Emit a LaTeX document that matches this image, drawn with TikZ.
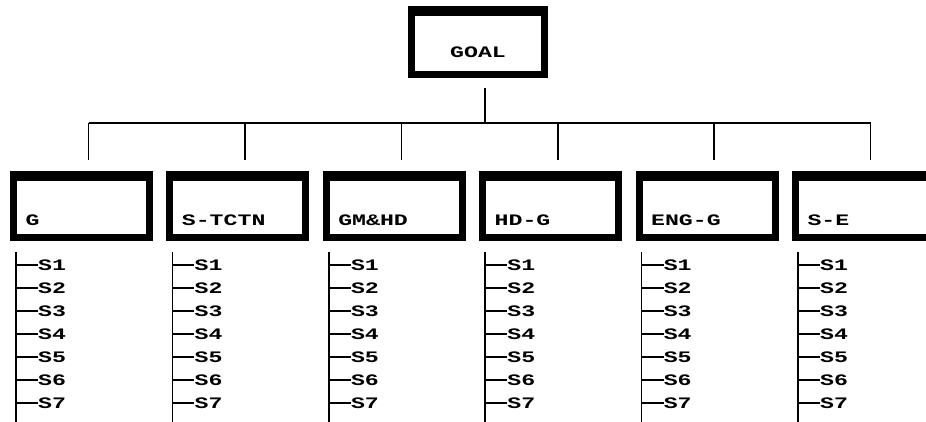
\documentclass[tikz,border=0pt]{standalone}
\usepackage{fontspec}
\newfontfamily\boxfont{Liberation Mono}[FakeStretch=1.45]
\usetikzlibrary{calc}
\begin{document}
\begin{tikzpicture}[x=1pt,y=-1pt,
  txt/.style={font=\boxfont\bfseries\fontsize{16}{16}\selectfont},
  frame/.style={txt, draw, line width=7pt, outer sep=0pt, inner ysep=0pt, inner xsep=12pt},
  childbox/.style={frame, text width=112pt, align=left, text height=51pt, text depth=12pt},
  goalbox/.style={frame, minimum width=133pt, align=center, text height=48.5pt, text depth=16.5pt},
  conn/.style={line width=1.6pt},
  sublabel/.style={txt, inner sep=0pt, anchor=west}
]
\useasboundingbox (0,0) rectangle (926,422);
\coordinate (bar) at (0,123);
\coordinate (bottom) at (0,424);

\node[goalbox] (goal) at (478,42) {GOAL};
\fill (goal.north west) rectangle ($(goal.north east)+(0,6.5)$);
\coordinate (g) at ($(goal.south)+(7,13.5)$);
\draw[conn] (g) -- (g |- bar);

\foreach \i/\lbl in {1/G,2/S-TCTN,3/GM\&HD,4/HD-G,5/ENG-G,6/S-E}{
  \node[childbox] (b\i) at ({81.5+156.4*(\i-1)},206) {\lbl};
  \fill (b\i.north west) rectangle ($(b\i.north east)+(0,6.5)$);
  \coordinate (d\i) at ($(b\i.north)+(7,-14.5)$);
  \draw[conn] (d\i) -- (d\i |- bar);
  \coordinate (t\i) at ($(b\i.south west)+(2.5,14.5)$);
  \draw[conn] (t\i) -- (t\i |- bottom);
  \foreach \j in {1,...,7}{
    \node[sublabel] (s\i\j) at ($(b\i.south west)+(24.5,{27.5+23*(\j-1)})$) {S\j};
    \draw[conn] (s\i\j.west -| t\i) -- (s\i\j.west);
  }
}
\draw[conn] (d1 |- bar) -- (d6 |- bar);
\end{tikzpicture}
\end{document}
